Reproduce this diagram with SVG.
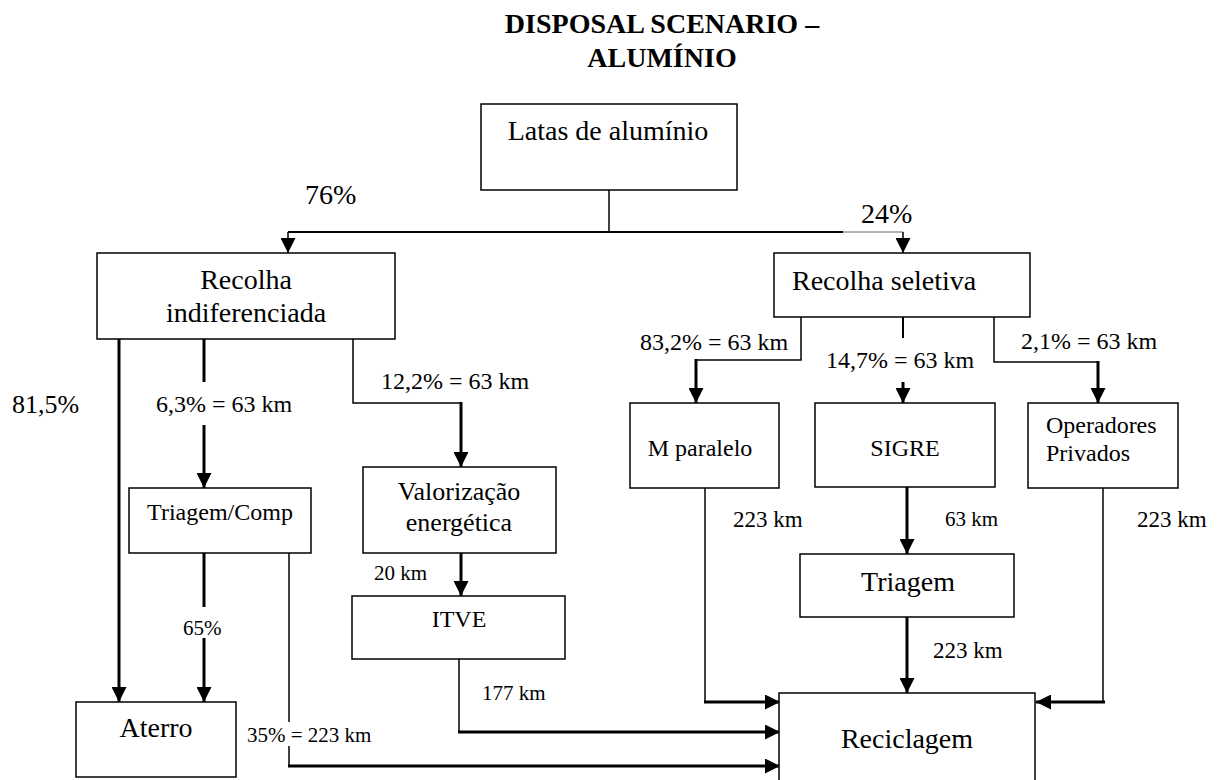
<svg xmlns="http://www.w3.org/2000/svg" width="1224" height="780" viewBox="0 0 1224 780">
  <style>
    text { font-family: "Liberation Serif", "Times New Roman", serif; fill: #000; }
    .title { font-size: 28px; font-weight: bold; text-anchor: middle; }
    .t28 { font-size: 28px; }
    .t26 { font-size: 26px; }
    .t24 { font-size: 24px; }
    .t23 { font-size: 23px; }
    .t21 { font-size: 21px; }
    .mid { text-anchor: middle; }
    .box { fill: #fff; stroke: #000; stroke-width: 1.5; }
    .thin { fill: none; stroke: #000; stroke-width: 1.5; }
    .thick { fill: none; stroke: #000; stroke-width: 3; }
    .faint { fill: none; stroke: #666; stroke-width: 1; }
  </style>
  <defs>
    <marker id="arrow" viewBox="0 0 15 15" refX="15" refY="7.5" markerWidth="15" markerHeight="15" markerUnits="userSpaceOnUse" orient="auto">
      <path d="M0,0 L15,7.5 L0,15 z" fill="#000"/>
    </marker>
  </defs>

  <rect width="1224" height="780" fill="#fff"/>

  <!-- heading -->
  <g id="title">
    <text class="title" x="662" y="33">DISPOSAL SCENARIO –</text>
    <text class="title" x="662" y="67">ALUMÍNIO</text>
  </g>

  <!-- connectors -->
  <g id="connectors">
    <!-- split of the collected cans -->
    <path class="thin" d="M609,190 V232"/>
    <path class="thick" style="stroke-width:2" d="M288,232 H843"/>
    <path class="faint" d="M843,232 H903"/>
    <path class="thin" d="M288,232 V253" marker-end="url(#arrow)"/>
    <path class="thin" d="M903,232 V253" marker-end="url(#arrow)"/>

    <!-- undifferentiated collection branches -->
    <path class="thick" d="M119,339 V702" marker-end="url(#arrow)"/>
    <path class="thick" d="M204,339 V382"/>
    <path class="thick" d="M204,425 V488" marker-end="url(#arrow)"/>
    <path class="thin" d="M353,339 V403 H461"/>
    <path class="thick" d="M461,402 V467" marker-end="url(#arrow)"/>

    <!-- energy recovery chain -->
    <path class="thick" d="M461,553 V596" marker-end="url(#arrow)"/>
    <path class="thin" d="M459,659 V732"/>
    <path class="thick" d="M458,732 H780" marker-end="url(#arrow)"/>

    <!-- sorting / composting outputs -->
    <path class="thick" d="M204,553 V607"/>
    <path class="thick" d="M204,638 V702" marker-end="url(#arrow)"/>
    <path class="thin" d="M289,553 V722"/>
    <path class="thin" d="M289,746 V766"/>
    <path class="thick" d="M288,766 H780" marker-end="url(#arrow)"/>

    <!-- selective collection branches -->
    <path class="thin" d="M801,317 V360 H696"/>
    <path class="thick" d="M696,359 V403" marker-end="url(#arrow)"/>
    <path class="thick" style="stroke-width:2" d="M903,317 V338"/>
    <path class="thick" d="M903,382 V403" marker-end="url(#arrow)"/>
    <path class="thin" d="M994,317 V362 H1098"/>
    <path class="thick" d="M1098,361 V403" marker-end="url(#arrow)"/>

    <!-- routes to recycling -->
    <path class="thin" d="M705,488 V702"/>
    <path class="thick" d="M704,702 H780" marker-end="url(#arrow)"/>
    <path class="thick" d="M907,487 V554" marker-end="url(#arrow)"/>
    <path class="thick" d="M907,617 V693" marker-end="url(#arrow)"/>
    <path class="thin" d="M1103,488 V702"/>
    <path class="thick" d="M1105,702 H1036" marker-end="url(#arrow)"/>
  </g>

  <!-- flow labels -->
  <g id="labels">
    <text class="t28" x="305" y="204">76%</text>
    <text class="t28" x="861" y="223">24%</text>
    <text class="t26" x="12" y="413">81,5%</text>
    <text class="t24" x="156" y="412">6,3% = 63 km</text>
    <text class="t24" x="381" y="389">12,2% = 63 km</text>
    <text class="t24" x="640" y="350">83,2% = 63 km</text>
    <text class="t24" x="826" y="368">14,7% = 63 km</text>
    <text class="t24" x="1021" y="349">2,1% = 63 km</text>
    <text class="t21" x="374" y="580">20 km</text>
    <text class="t21" x="482" y="700">177 km</text>
    <text class="t21" x="183" y="635">65%</text>
    <text class="t21" x="247" y="742">35% = 223 km</text>
    <text class="t23" x="733" y="527">223 km</text>
    <text class="t21" x="945" y="526">63 km</text>
    <text class="t23" x="933" y="658">223 km</text>
    <text class="t23" x="1137" y="527">223 km</text>
  </g>

  <!-- nodes -->
  <g id="latas">
    <rect class="box" x="481" y="104" width="256" height="86"/>
    <text class="t28 mid" x="608" y="140">Latas de alumínio</text>
  </g>
  <g id="recolha-indiferenciada">
    <rect class="box" x="97" y="253" width="298" height="86"/>
    <text class="t28 mid" x="246" y="289">Recolha</text>
    <text class="t28 mid" x="246" y="322">indiferenciada</text>
  </g>
  <g id="recolha-seletiva">
    <rect class="box" x="774" y="253" width="256" height="64"/>
    <text class="t28" x="792" y="290">Recolha seletiva</text>
  </g>
  <g id="triagem-comp">
    <rect class="box" x="129" y="488" width="182" height="65"/>
    <text class="t24 mid" x="220" y="520">Triagem/Comp</text>
  </g>
  <g id="valorizacao">
    <rect class="box" x="363" y="467" width="193" height="86"/>
    <text class="t26 mid" x="459" y="500">Valorização</text>
    <text class="t26 mid" x="459" y="531">energética</text>
  </g>
  <g id="itve">
    <rect class="box" x="352" y="596" width="213" height="63"/>
    <text class="t24 mid" x="459" y="627">ITVE</text>
  </g>
  <g id="m-paralelo">
    <rect class="box" x="630" y="403" width="149" height="85"/>
    <text class="t24 mid" x="700" y="456">M paralelo</text>
  </g>
  <g id="sigre">
    <rect class="box" x="815" y="403" width="180" height="84"/>
    <text class="t24 mid" x="905" y="456">SIGRE</text>
  </g>
  <g id="operadores">
    <rect class="box" x="1028" y="403" width="150" height="85"/>
    <text class="t24" x="1046" y="433">Operadores</text>
    <text class="t24" x="1046" y="461">Privados</text>
  </g>
  <g id="triagem">
    <rect class="box" x="800" y="554" width="214" height="63"/>
    <text class="t28 mid" x="908" y="591">Triagem</text>
  </g>
  <g id="aterro">
    <rect class="box" x="76" y="702" width="160" height="75"/>
    <text class="t28 mid" x="156" y="737">Aterro</text>
  </g>
  <g id="reciclagem">
    <rect class="box" x="779" y="693" width="256" height="110"/>
    <text class="t28 mid" x="907" y="748">Reciclagem</text>
  </g>
</svg>
